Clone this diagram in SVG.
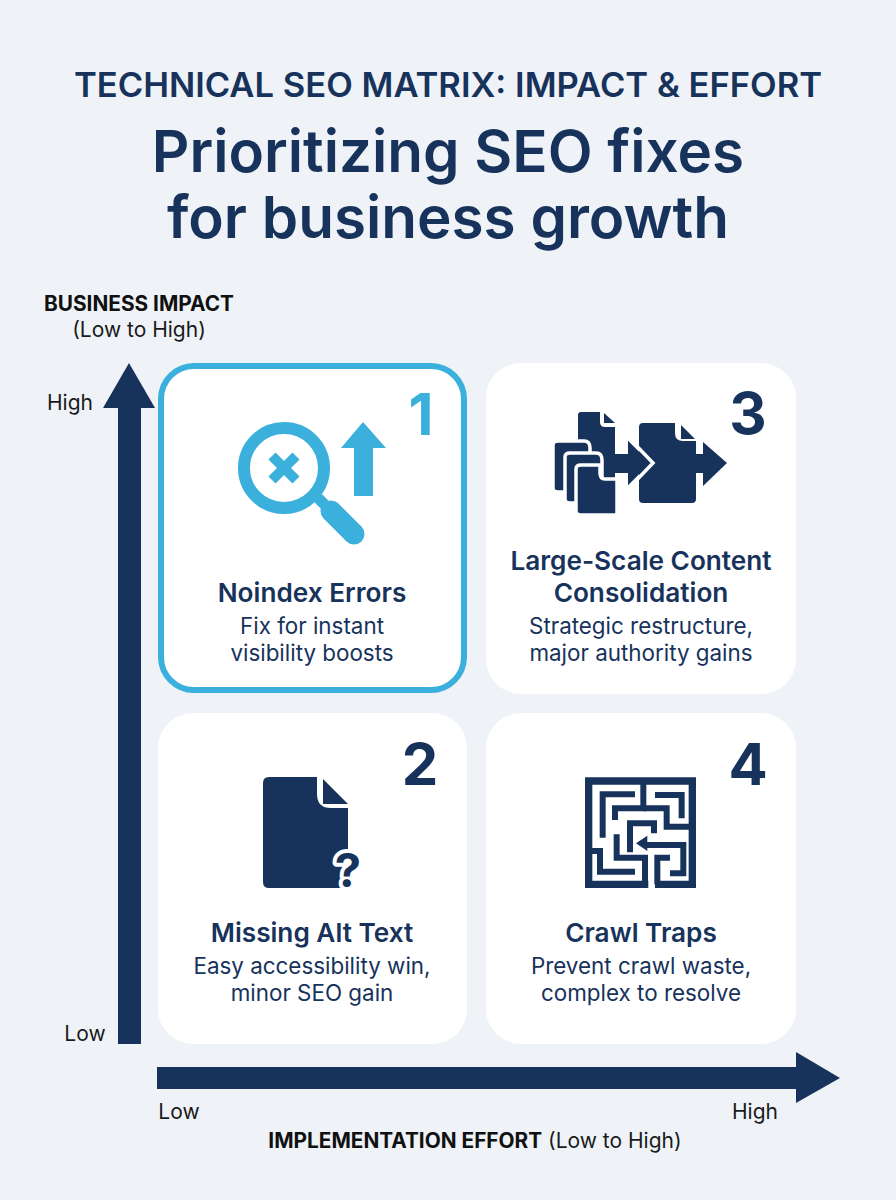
<svg xmlns="http://www.w3.org/2000/svg" width="896" height="1200" viewBox="0 0 896 1200">
<style>
text{font-family:Inter,"Liberation Sans",sans-serif;text-anchor:middle}
.navy{fill:#17335c}
.blue{fill:#3cb0dc}
.card{fill:#fff}
.eyebrow{font-size:34.6px;font-weight:600;fill:#17335c}
.title{font-size:58.4px;font-weight:600;fill:#17335c}
.head{font-size:26.2px;font-weight:600;fill:#17335c}
.sub{font-size:22.4px;font-weight:400;fill:#17335c}
.num{font-size:58px;font-weight:700}
.axis{font-size:21px;font-weight:400;fill:#1a1a1a}
.axisb{font-size:20.8px;font-weight:700;fill:#111}
.gap{stroke:#fff;stroke-width:3.5;stroke-linejoin:round}
</style>
<rect width="896" height="1200" fill="#eff3f8"/>
<g id="titles">
<text class="eyebrow" x="448" y="97">TECHNICAL SEO MATRIX: IMPACT &amp; EFFORT</text>
<text class="title" x="448" y="172">Prioritizing SEO fixes</text>
<text class="title" x="448" y="238">for business growth</text>
</g>
<g id="axes">
<path class="navy" d="M118 1044V408H103L129 363L155 408H141V1044Z"/>
<path class="navy" d="M157 1067H796V1052L840 1078L796 1103V1089H157Z"/>
<text class="axisb" x="139" y="311">BUSINESS IMPACT</text>
<text class="axis" x="139" y="337">(Low to High)</text>
<text class="axis" x="70" y="410">High</text>
<text class="axis" x="85" y="1041">Low</text>
<text class="axis" x="179" y="1119">Low</text>
<text class="axis" x="755" y="1119">High</text>
<text class="axis" x="475" y="1148"><tspan class="axisb">IMPLEMENTATION EFFORT</tspan> (Low to High)</text>
</g>
<g id="card-1">
<rect x="161" y="366" width="303" height="324" rx="33" fill="#fff" stroke="#3cb0dc" stroke-width="6"/>
<circle cx="284" cy="468" r="40" fill="none" stroke="#3cb0dc" stroke-width="12"/>
<path d="M272 456L296 480M296 456L272 480" stroke="#3cb0dc" stroke-width="10" fill="none"/>
<path d="M318 498L331 511" stroke="#3cb0dc" stroke-width="11" fill="none"/>
<path d="M331 511L354 534" stroke="#3cb0dc" stroke-width="21" stroke-linecap="round" fill="none"/>
<path class="blue" d="M363 422L386 448H373V496H354V448H341Z"/>
<text class="num blue" x="421" y="435">1</text>
<text class="head" x="312" y="602">Noindex Errors</text>
<text class="sub" x="312" y="634">Fix for instant</text>
<text class="sub" x="312" y="661">visibility boosts</text>
</g>
<g id="card-3">
<rect class="card" x="486" y="363" width="310" height="331" rx="35"/>
<path class="navy" d="M581 412H600V422Q600 427 605 427H615V454H628V441L650 463L628 485V473H615V480H578V415Q578 412 581 412Z"/>
<path class="navy" d="M604 413L615 423H604Z"/>
<path class="navy gap" d="M558 441H584Q590 441 590 448V492H558Q553 492 553 488V445Q553 441 558 441Z"/>
<path class="navy gap" d="M570 453H596Q602 453 602 460V503H570Q565 503 565 499V457Q565 453 570 453Z"/>
<path class="navy gap" d="M581 465H600V473Q600 479 605 479H617V515H581Q576 515 576 511V469Q576 465 581 465Z"/>
<path class="navy" d="M604 467L615 477H604Z"/>
<path class="navy" d="M643 423H675V433Q675 441 683 441H696V454H703V442L727 463L703 486V473H696V499Q696 503 692 503H643Q639 503 639 499V427Q639 423 643 423Z"/>
<path class="navy" d="M681 425L695 439H681Z"/>
<path class="navy" d="M628 441L650 463L628 485V473H615V454H628Z"/>
<path d="M630 439L653 463L630 487" fill="none" stroke="#fff" stroke-width="3.5"/>
<text class="num navy" x="748" y="434">3</text>
<text class="head" x="641" y="570">Large-Scale Content</text>
<text class="head" x="641" y="602">Consolidation</text>
<text class="sub" x="641" y="634">Strategic restructure,</text>
<text class="sub" x="641" y="661">major authority gains</text>
</g>
<g id="card-2">
<rect class="card" x="158" y="713" width="309" height="331" rx="35"/>
<path class="navy" d="M269 777H317V794Q317 808 331 808H348V882Q348 888 342 888H269Q263 888 263 882V783Q263 777 269 777Z"/>
<path class="navy" d="M323 779L348 804H323Z"/>
<text x="348" y="887" style="font-size:47px;font-weight:700;paint-order:stroke;stroke:#fff;stroke-width:8;stroke-linejoin:round" class="navy">?</text>
<text class="num navy" x="420" y="785">2</text>
<text class="head" x="312" y="942">Missing Alt Text</text>
<text class="sub" x="312" y="974">Easy accessibility win,</text>
<text class="sub" x="312" y="1001">minor SEO gain</text>
</g>
<g id="card-4">
<rect class="card" x="486" y="713" width="310" height="331" rx="35"/>
<g transform="translate(570 765) scale(.3333)" fill="none" stroke="#17335c" stroke-width="18">
<path d="M235 358H56V48H367V358H255" stroke-width="22"/>
<path d="M195 88H98V218"/>
<path d="M220 48V130H135V165"/>
<path d="M220 130H290V185H367"/>
<path d="M255 90H335V160"/>
<path d="M180 262V175H252V205"/>
<path d="M140 208V278H225V358"/>
<path d="M56 258H90V320H195"/>
<path d="M262 358V278H300"/>
<path d="M300 325H340V240H225"/>
<path d="M198 235L232 212V258Z" fill="#17335c" stroke="none"/>
</g>
<text class="num navy" x="748" y="785">4</text>
<text class="head" x="641" y="942">Crawl Traps</text>
<text class="sub" x="641" y="974">Prevent crawl waste,</text>
<text class="sub" x="641" y="1001">complex to resolve</text>
</g>
</svg>
